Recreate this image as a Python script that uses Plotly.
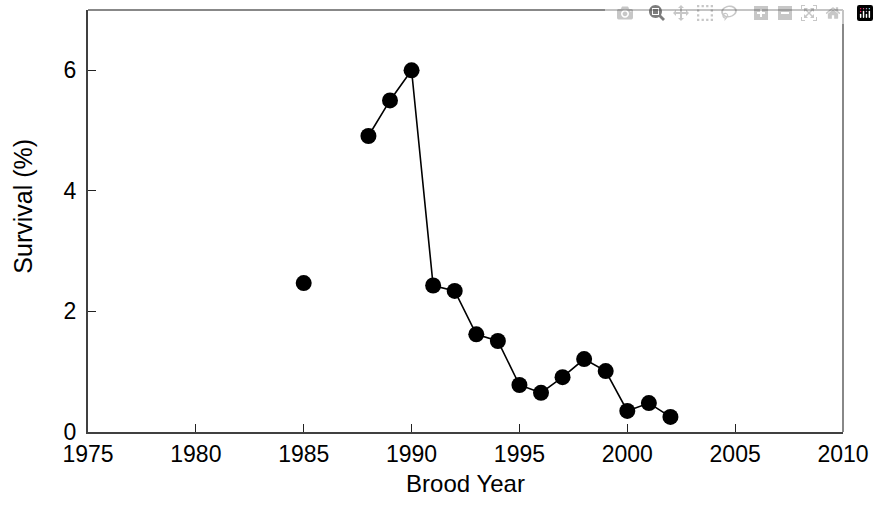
import plotly.graph_objects as go

years = [1985, 1986, 1987, 1988, 1989, 1990, 1991, 1992, 1993, 1994, 1995,
         1996, 1997, 1998, 1999, 2000, 2001, 2002]
survival = [2.47, None, None, 4.91, 5.50, 6.00, 2.43, 2.34, 1.62, 1.51, 0.78,
            0.65, 0.91, 1.21, 1.01, 0.35, 0.48, 0.25]

x_ticks = [1975, 1980, 1985, 1990, 1995, 2000, 2005, 2010]
y_ticks = [0, 2, 4, 6]

fig = go.Figure()
fig.add_trace(go.Scatter(
    x=years, y=survival, mode="lines+markers",
    connectgaps=False,
    line=dict(color="black", width=1.6),
    marker=dict(color="black", size=16),
    showlegend=False,
))

font = dict(family="Liberation Sans, Arial, sans-serif", color="black")

fig.update_layout(
    width=879, height=514,
    margin=dict(l=88, r=31, t=10, b=82),
    paper_bgcolor="white", plot_bgcolor="white",
    font=dict(**font, size=23),
    xaxis=dict(
        range=[1975, 2010], tickvals=x_ticks, ticktext=[str(v) for v in x_ticks],
        ticks="inside", ticklen=8, tickwidth=1, tickcolor="#222",
        showline=True, linecolor="#404040", linewidth=2,
        showgrid=False, zeroline=False,
        ticklabeloverflow="allow",
        title=dict(text="Brood Year", font=dict(size=24), standoff=10),
        tickfont=dict(size=23),
    ),
    yaxis=dict(
        range=[0, 7], tickvals=y_ticks, ticktext=[str(v) for v in y_ticks],
        ticks="inside", ticklen=8, tickwidth=1, tickcolor="#222",
        showline=True, linecolor="#404040", linewidth=2,
        showgrid=False, zeroline=False,
        ticklabelstandoff=5,
        tickfont=dict(size=23),
    ),
    annotations=[
        dict(text="Survival (%)", textangle=-90, xref="paper", yref="paper",
             x=-0.0855, y=0.535, xanchor="center", yanchor="middle",
             showarrow=False, font=dict(size=25)),
    ],
    shapes=[
        dict(type="line", xref="paper", yref="paper", x0=0, x1=1, y0=1, y1=1,
             line=dict(color="#888888", width=2)),
        dict(type="line", xref="paper", yref="paper", x0=1, x1=1, y0=0, y1=1,
             line=dict(color="#888888", width=2)),
    ],
)

fig.write_html(
    "out.html",
    post_script=(
        "document.body.style.margin='0';"
        "document.body.style.overflow='hidden';"
        "document.documentElement.style.overflow='hidden';"
    ),
)
